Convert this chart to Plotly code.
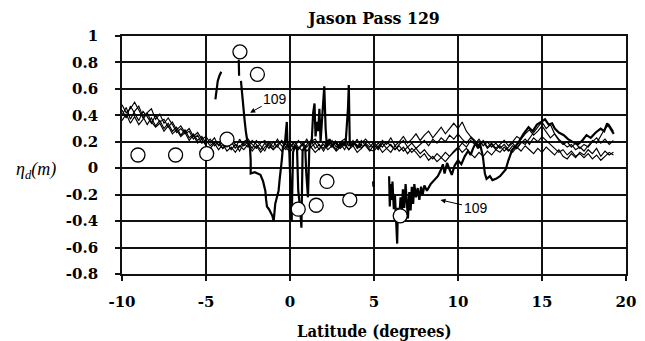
import plotly.graph_objects as go

# ---- along-track latitude grid of the altimeter passes (degrees) ----
lat = [-10, -9.75, -9.5, -9.25, -9, -8.75, -8.5, -8.25, -8, -7.75,
       -7.5, -7.25, -7, -6.75, -6.5, -6.25, -6, -5.75, -5.5, -5.25,
       -5, -4.75, -4.5, -4.25, -4, -3.75, -3.5, -3.25, -3, -2.75,
       -2.5, -2.25, -2, -1.75, -1.5, -1.25, -1, -0.75, -0.5, -0.25,
       0, 0.25, 0.5, 0.75, 1, 1.25, 1.5, 1.75, 2, 2.25,
       2.5, 2.75, 3, 3.25, 3.5, 3.75, 4, 4.25, 4.5, 4.75,
       5, 5.25, 5.5, 5.75, 6, 6.25, 6.5, 6.75, 7, 7.25,
       7.5, 7.75, 8, 8.25, 8.5, 8.75, 9, 9.25, 9.5, 9.75,
       10, 10.25, 10.5, 10.75, 11, 11.25, 11.5, 11.75, 12, 12.25,
       12.5, 12.75, 13, 13.25, 13.5, 13.75, 14, 14.25, 14.5, 14.75,
       15, 15.25, 15.5, 15.75, 16, 16.25, 16.5, 16.75, 17, 17.25,
       17.5, 17.75, 18, 18.25, 18.5, 18.75, 19, 19.25]

# ---- sea surface height anomaly of the background passes (m) ----
pass_a = [0.44, 0.38, 0.47, 0.41, 0.36, 0.43, 0.39, 0.34, 0.40, 0.35,
          0.37, 0.31, 0.35, 0.29, 0.32, 0.27, 0.30, 0.24, 0.27, 0.22,
          0.24, 0.19, 0.23, 0.17, 0.21, 0.16, 0.20, 0.15, 0.22, 0.17,
          0.20, 0.15, 0.21, 0.17, 0.13, 0.20, 0.16, 0.22, 0.17, 0.14,
          0.19, 0.15, 0.21, 0.17, 0.22, 0.16, 0.19, 0.14, 0.20, 0.17,
          0.21, 0.16, 0.19, 0.14, 0.20, 0.17, 0.22, 0.15, 0.19, 0.16,
          0.20, 0.15, 0.21, 0.18, 0.23, 0.17, 0.20, 0.24, 0.19, 0.22,
          0.26, 0.21, 0.25, 0.28, 0.23, 0.27, 0.31, 0.26, 0.30, 0.34,
          0.30, 0.35, 0.28, 0.24, 0.21, 0.17, 0.20, 0.15, 0.18, 0.14,
          0.17, 0.13, 0.16, 0.19, 0.15, 0.20, 0.18, 0.23, 0.27, 0.31,
          0.35, 0.30, 0.33, 0.26, 0.22, 0.19, 0.16, 0.18, 0.14, 0.16,
          0.13, 0.17, 0.21, 0.19, 0.25, 0.30, 0.33, 0.28]

pass_b = [0.40, 0.46, 0.37, 0.43, 0.47, 0.39, 0.33, 0.38, 0.32, 0.36,
          0.30, 0.34, 0.28, 0.31, 0.25, 0.29, 0.23, 0.26, 0.21, 0.24,
          0.19, 0.22, 0.17, 0.20, 0.15, 0.19, 0.14, 0.18, 0.13, 0.19,
          0.16, 0.21, 0.18, 0.14, 0.19, 0.15, 0.20, 0.16, 0.21, 0.18,
          0.15, 0.20, 0.16, 0.13, 0.18, 0.21, 0.15, 0.18, 0.13, 0.19,
          0.16, 0.20, 0.15, 0.18, 0.14, 0.19, 0.16, 0.21, 0.17, 0.13,
          0.18, 0.14, 0.19, 0.15, 0.12, 0.17, 0.13, 0.16, 0.11, 0.15,
          0.12, 0.08, 0.11, 0.06, 0.09, 0.05, 0.08, 0.12, 0.09, 0.13,
          0.16, 0.12, 0.15, 0.11, 0.08, 0.12, 0.09, 0.13, 0.10, 0.14,
          0.12, 0.16, 0.13, 0.17, 0.15, 0.19, 0.22, 0.18, 0.23, 0.20,
          0.24, 0.21, 0.18, 0.15, 0.12, 0.14, 0.10, 0.13, 0.09, 0.11,
          0.08, 0.11, 0.07, 0.10, 0.06, 0.09, 0.12, 0.10]

pass_c = [0.48, 0.42, 0.45, 0.50, 0.44, 0.38, 0.42, 0.45, 0.37, 0.41,
          0.34, 0.38, 0.33, 0.27, 0.30, 0.26, 0.28, 0.22, 0.25, 0.19,
          0.21, 0.17, 0.20, 0.18, 0.15, 0.17, 0.21, 0.18, 0.16, 0.20,
          0.22, 0.18, 0.15, 0.19, 0.21, 0.17, 0.14, 0.18, 0.20, 0.16,
          0.21, 0.18, 0.15, 0.19, 0.16, 0.20, 0.22, 0.17, 0.15, 0.21,
          0.18, 0.14, 0.20, 0.22, 0.17, 0.21, 0.15, 0.19, 0.22, 0.18,
          0.15, 0.19, 0.16, 0.20, 0.17, 0.14, 0.18, 0.21, 0.16, 0.19,
          0.15, 0.18, 0.21, 0.17, 0.22, 0.19, 0.23, 0.20, 0.25, 0.22,
          0.26, 0.22, 0.19, 0.23, 0.20, 0.17, 0.21, 0.16, 0.19, 0.15,
          0.18, 0.21, 0.17, 0.20, 0.24, 0.22, 0.26, 0.29, 0.25, 0.28,
          0.32, 0.27, 0.23, 0.26, 0.21, 0.18, 0.20, 0.16, 0.19, 0.15,
          0.18, 0.16, 0.20, 0.23, 0.19, 0.22, 0.18, 0.21]

pass_d = [0.36, 0.41, 0.34, 0.39, 0.33, 0.37, 0.42, 0.35, 0.31, 0.34,
          0.28, 0.32, 0.26, 0.29, 0.24, 0.27, 0.21, 0.25, 0.19, 0.22,
          0.17, 0.15, 0.19, 0.14, 0.18, 0.13, 0.16, 0.12, 0.17, 0.14,
          0.18, 0.13, 0.17, 0.12, 0.16, 0.19, 0.14, 0.17, 0.13, 0.16,
          0.12, 0.17, 0.14, 0.18, 0.13, 0.16, 0.12, 0.15, 0.18, 0.14,
          0.17, 0.13, 0.16, 0.19, 0.14, 0.17, 0.12, 0.15, 0.18, 0.14,
          0.13, 0.17, 0.12, 0.15, 0.18, 0.14, 0.17, 0.13, 0.16, 0.12,
          0.15, 0.11, 0.14, 0.10, 0.07, 0.11, 0.08, 0.05, 0.09, 0.12,
          0.15, 0.19, 0.16, 0.21, 0.18, 0.22, 0.17, 0.20, 0.16, 0.19,
          0.15, 0.18, 0.14, 0.12, 0.16, 0.13, 0.17, 0.14, 0.11, 0.15,
          0.12, 0.16, 0.13, 0.10, 0.14, 0.09, 0.07, 0.11, 0.08, 0.12,
          0.10, 0.14, 0.11, 0.15, 0.09, 0.13, 0.10, 0.12]

# ---- pass 109, drawn in separate along-track segments [lat, eta] ----
seg109_1 = [[-4.44, 0.52], [-4.38, 0.58], [-4.30, 0.66], [-4.20, 0.70], [-4.09, 0.73]]
seg109_2 = [[-3.05, 0.82], [-3.03, 0.70]]
seg109_3 = [[-2.92, 0.66], [-2.85, 0.55], [-2.78, 0.44], [-2.70, 0.36], [-2.62, 0.27],
            [-2.53, 0.20], [-2.45, 0.18], [-2.38, 0.15], [-2.34, 0.06], [-2.34, -0.04],
            [-2.10, -0.03], [-1.76, -0.05], [-1.60, -0.10], [-1.47, -0.17], [-1.42, -0.24],
            [-1.37, -0.29], [-1.25, -0.31], [-1.17, -0.33], [-1.05, -0.36], [-0.97, -0.40],
            [-0.90, -0.32], [-0.88, -0.27], [-0.78, -0.22], [-0.68, -0.17], [-0.62, -0.09],
            [-0.59, -0.04], [-0.49, 0.06], [-0.42, 0.16], [-0.30, 0.19], [-0.19, 0.35],
            [-0.15, 0.18], [-0.05, 0.16], [0.00, -0.01], [0.05, -0.20], [0.10, -0.40],
            [0.18, 0.12], [0.30, 0.17], [0.42, 0.14], [0.49, -0.17], [0.60, -0.30],
            [0.68, -0.45], [0.75, 0.13], [0.90, 0.17], [0.97, -0.04], [1.07, -0.22],
            [1.15, 0.15], [1.30, 0.22], [1.38, 0.42], [1.46, 0.49], [1.52, 0.24],
            [1.60, 0.35], [1.68, 0.28], [1.75, 0.45], [1.82, 0.20], [1.90, 0.38],
            [1.97, 0.55], [2.04, 0.62], [2.12, 0.30], [2.20, 0.16], [2.35, 0.22],
            [2.50, 0.17], [2.70, 0.20], [2.90, 0.16], [3.10, 0.19], [3.30, 0.17],
            [3.45, 0.45], [3.50, 0.63], [3.56, 0.17], [3.80, 0.19], [4.10, 0.16],
            [4.30, 0.18]]
seg109_4 = [[4.95, -0.10], [4.97, -0.14]]
seg109_5 = [[5.90, -0.06], [5.94, -0.29], [6.00, -0.12], [6.05, -0.24], [6.10, -0.10],
            [6.18, -0.31], [6.25, -0.21], [6.32, -0.41], [6.38, -0.57], [6.42, -0.30],
            [6.50, -0.38], [6.58, -0.22], [6.65, -0.35], [6.72, -0.16], [6.80, -0.30],
            [6.88, -0.12], [6.95, -0.28], [7.02, -0.38], [7.10, -0.18], [7.18, -0.32],
            [7.25, -0.14], [7.33, -0.27], [7.40, -0.12], [7.50, -0.22], [7.60, -0.15],
            [7.70, -0.24], [7.80, -0.14], [7.90, -0.20], [8.00, -0.13], [8.15, -0.17],
            [8.37, -0.12], [8.60, -0.09], [8.80, -0.06], [8.96, -0.02], [9.10, 0.03],
            [9.20, -0.04], [9.35, 0.04], [9.50, -0.01], [9.63, -0.05], [9.80, 0.02],
            [10.00, 0.06], [10.20, 0.03], [10.40, 0.09], [10.60, 0.13], [10.75, 0.10],
            [10.90, 0.15], [11.05, 0.19], [11.19, 0.15], [11.30, 0.19], [11.48, 0.09],
            [11.60, -0.04], [11.70, -0.08], [11.90, -0.06], [12.05, -0.09], [12.26, -0.08],
            [12.50, -0.06], [12.70, -0.03], [12.84, -0.01], [13.00, 0.06], [13.23, 0.14],
            [13.45, 0.17], [13.62, 0.20], [13.90, 0.26], [14.20, 0.31], [14.45, 0.28],
            [14.70, 0.33], [14.95, 0.35], [15.18, 0.37], [15.40, 0.33], [15.60, 0.34],
            [15.76, 0.30], [16.00, 0.27], [16.30, 0.25], [16.55, 0.22], [16.80, 0.20],
            [17.13, 0.18], [17.40, 0.21], [17.65, 0.25], [17.90, 0.23], [18.20, 0.27],
            [18.49, 0.30], [18.70, 0.28], [18.88, 0.34], [19.05, 0.30], [19.27, 0.26]]

# ---- observed values (open circles) ----
obs_lat = [-9.05, -6.81, -4.96, -3.75, -2.98, -1.94, 0.49, 1.56, 2.20, 3.56, 6.56]
obs_eta = [0.10, 0.10, 0.11, 0.22, 0.88, 0.71, -0.31, -0.28, -0.10, -0.24, -0.36]

# ---- axis ticks ----
x_ticks = [-10, -5, 0, 5, 10, 15, 20]
x_tick_text = ["-10", "-5", "0", "5", "10", "15", "20"]
y_ticks = [1, 0.8, 0.6, 0.4, 0.2, 0, -0.2, -0.4, -0.6, -0.8]
y_tick_text = ["1", "0.8", "0.6", "0.4", "0.2", "0", "-0.2", "-0.4", "-0.6", "-0.8"]

INK = "#111111"
BOLD_SERIF = "DejaVu Serif Condensed, DejaVu Serif, serif"

fig = go.Figure()

for series in (pass_a, pass_b, pass_c, pass_d):
    fig.add_trace(go.Scatter(x=lat, y=series, mode="lines",
                             line=dict(color="#000000", width=1.15),
                             hoverinfo="skip"))

# join the pass-109 segments with gaps
lat_109, eta_109 = [], []
for seg in (seg109_1, seg109_2, seg109_3, seg109_4, seg109_5):
    for la, et in seg:
        lat_109.append(la)
        eta_109.append(et)
    lat_109.append(None)
    eta_109.append(None)

fig.add_trace(go.Scatter(x=lat_109, y=eta_109, mode="lines",
                         line=dict(color="#000000", width=2.2),
                         connectgaps=False, hoverinfo="skip"))

fig.add_trace(go.Scatter(x=obs_lat, y=obs_eta, mode="markers",
                         marker=dict(symbol="circle", size=14, color="white",
                                     line=dict(color="#000000", width=1.3))))

axis_common = dict(showline=True, linecolor=INK, linewidth=1.6, mirror=True,
                   showgrid=True, gridcolor=INK, gridwidth=1.5,
                   zeroline=False, ticks="outside", ticklen=5, tickwidth=1.5,
                   tickcolor=INK,
                   tickfont=dict(family="DejaVu Serif", size=15, color="#000000",
                                 weight="bold"))

fig.update_xaxes(range=[-10, 20], tickvals=x_ticks, ticktext=x_tick_text,
                 ticklabelstandoff=8, **axis_common)
fig.update_yaxes(range=[-0.8, 1], tickvals=y_ticks, ticktext=y_tick_text,
                 ticklabelstandoff=14, **axis_common)

fig.update_layout(
    width=645, height=341, autosize=False,
    margin=dict(l=122, r=9, t=36, b=67),
    paper_bgcolor="white", plot_bgcolor="white",
    showlegend=False,
    title=dict(text="Jason Pass 129", x=0.5, xref="paper", xanchor="center",
               y=1 - 17.5 / 341, yref="container", yanchor="middle",
               font=dict(family=BOLD_SERIF, size=17.5, color="#000000", weight="bold")),
    annotations=[
        dict(text="Latitude (degrees)", xref="paper", yref="paper", x=0.5, y=0,
             xanchor="center", yanchor="middle", yshift=-57, showarrow=False,
             font=dict(family=BOLD_SERIF, size=16.5, color="#000000",
                       weight="bold")),
        dict(text="<i>η<sub>d</sub>(m)</i>", xref="paper", yref="y", x=0, y=0,
             xanchor="center", yanchor="middle", xshift=-86, yshift=-2,
             showarrow=False,
             font=dict(family="Liberation Serif", size=18, color="#000000")),
        dict(text="109", xref="x", yref="y", x=-2.37, y=0.42, ax=25, ay=-14,
             showarrow=True, arrowhead=2, arrowsize=1, arrowwidth=1,
             arrowcolor="#000000",
             font=dict(family="Liberation Sans", size=14, color="#000000")),
        dict(text="109", xref="x", yref="y", x=8.96, y=-0.24, ax=35, ay=8,
             showarrow=True, arrowhead=2, arrowsize=1, arrowwidth=1,
             arrowcolor="#000000",
             font=dict(family="Liberation Sans", size=14, color="#000000")),
    ],
)

fig.write_html("out.html")
